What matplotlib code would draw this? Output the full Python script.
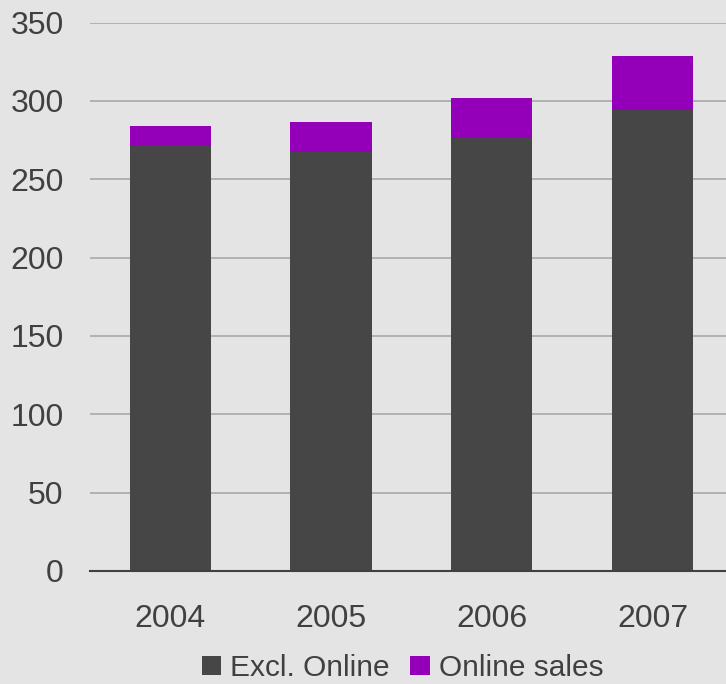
import matplotlib
matplotlib.use("Agg")
import matplotlib.pyplot as plt
from matplotlib.patches import Patch

years = ["2004", "2005", "2006", "2007"]
excl_online = [271.5, 267.5, 276.5, 294]
online_sales = [12.5, 19, 25.5, 34.5]
yticks = [0, 50, 100, 150, 200, 250, 300, 350]

BG = "#e4e4e4"
DARK = "#464646"
PURPLE = "#9400b9"
TXT = "#404040"

plt.rcParams['font.family'] = ['Liberation Sans', 'DejaVu Sans']

W, H = 726, 684
fig = plt.figure(figsize=(W/100, H/100), dpi=100, facecolor=BG)
left = 90 / W
bottom = (H - 571) / H
height = (571 - 22.5) / H
width = (W - 90) / W
ax = fig.add_axes([left, bottom, width, height], facecolor=BG)

x = list(range(len(years)))
ax.bar(x, excl_online, width=0.507, color=DARK, zorder=3)
ax.bar(x, online_sales, bottom=excl_online, width=0.507, color=PURPLE, zorder=3)

ax.set_ylim(0, 350)
ax.set_xlim(-0.5, -0.5 + (W - 90) / 160.7)
ax.set_yticks(yticks)
ax.set_xticks(x)
ax.set_xticklabels(years)
ax.grid(axis='y', color="#a8a8a8", linewidth=1.2, zorder=0)
ax.set_axisbelow(True)
for s in ["top", "right", "left"]:
    ax.spines[s].set_visible(False)
ax.spines["bottom"].set_color("#404040")
ax.spines["bottom"].set_linewidth(1.5)
ax.spines["bottom"].set_zorder(4)
ax.tick_params(axis='both', length=0, labelsize=23, labelcolor=TXT)
ax.tick_params(axis='x', pad=24)
ax.tick_params(axis='y', pad=19)

handles = [Patch(facecolor=DARK, label="Excl. Online"),
           Patch(facecolor=PURPLE, label="Online sales")]
fig.legend(handles=handles, loc="center", bbox_to_anchor=(402.5 / W, 1 - 668 / H),
           ncol=2, frameon=False, fontsize=21.5, handlelength=0.65, handleheight=0.65,
           handletextpad=0.3, columnspacing=0.7, labelcolor=TXT, borderpad=0)

fig.savefig("out.png", dpi=100, facecolor=BG)
